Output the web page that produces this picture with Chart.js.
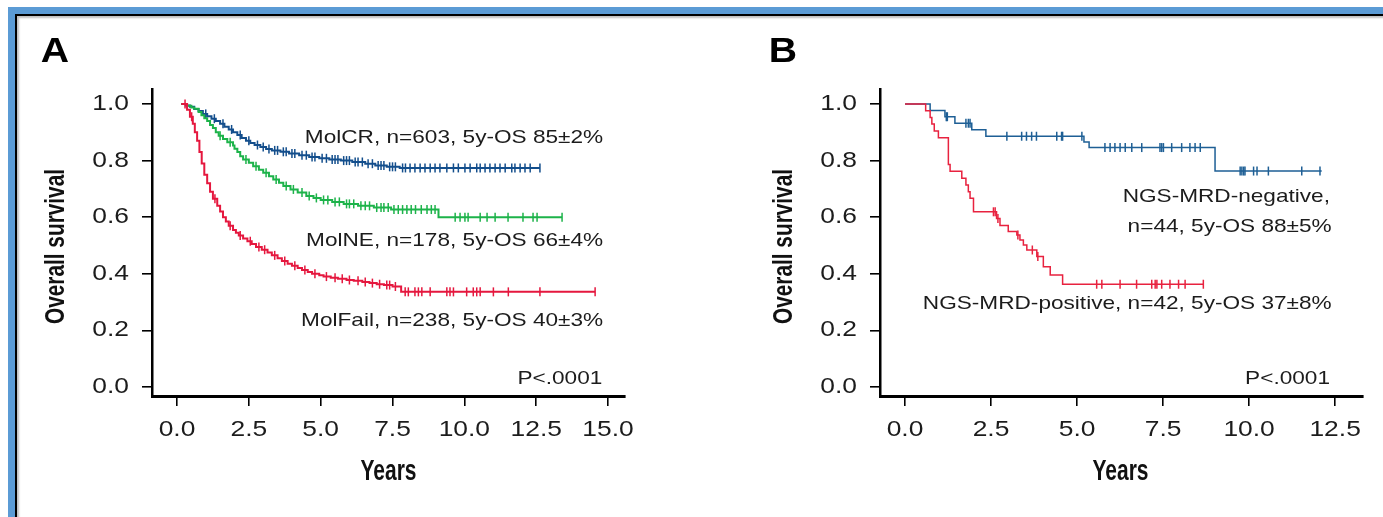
<!DOCTYPE html>
<html><head><meta charset="utf-8">
<script src="https://cdn.jsdelivr.net/npm/chart.js@4"></script>
<style>
html,body{margin:0;padding:0;background:#fff;width:1383px;height:517px;overflow:hidden;}
#f1{position:absolute;left:8px;top:7px;width:1400px;height:520px;border-left:7px solid #5b9bd5;border-top:7px solid #5b9bd5;}
#f2{position:absolute;left:15px;top:14px;width:1400px;height:520px;border-left:2px solid #000;border-top:2px solid #000;box-shadow: inset 2px 2px 2px rgba(0,0,0,.25);}
#wa{position:absolute;left:0;top:0;width:700px;height:517px;}
#wb{position:absolute;left:700px;top:0;width:683px;height:517px;}
</style></head><body>
<div id="f1"></div><div id="f2"></div>
<div id="wa"><canvas id="ca"></canvas></div>
<div id="wb"><canvas id="cb"></canvas></div>
<script>
// ---------- Panel A data (time in years, survival, censored flag) ----------
const molcrT = [0.15,0.3,0.45,0.6,0.75,0.9,1.0,1.05,1.2,1.3,1.35,1.5,1.6,1.65,1.8,1.9,1.95,2.1,2.2,2.25,2.4,2.5,2.55,2.7,2.8,2.9,3.0,3.1,3.2,3.3,3.4,3.5,3.6,3.7,3.8,3.9,4.0,4.1,4.25,4.35,4.5,4.6,4.7,4.8,4.95,5.05,5.2,5.3,5.4,5.5,5.6,5.7,5.8,5.9,6.0,6.1,6.2,6.3,6.45,6.55,6.65,6.8,6.9,7.0,7.1,7.2,7.3,7.4,7.5,7.6,7.75,7.85,7.95,8.11,8.28,8.46,8.63,8.81,8.98,9.15,9.39,9.62,9.79,10.02,10.2,10.43,10.55,10.72,10.89,11.07,11.24,11.42,11.65,11.76,11.94,12.11,12.29,12.63];
const molcrS = [1.0,0.995,0.99,0.982,0.975,0.965,0.965,0.957,0.948,0.948,0.94,0.93,0.93,0.92,0.91,0.91,0.90,0.89,0.89,0.88,0.87,0.87,0.862,0.855,0.855,0.848,0.848,0.841,0.841,0.836,0.836,0.836,0.831,0.831,0.831,0.825,0.825,0.825,0.819,0.819,0.819,0.813,0.813,0.813,0.808,0.808,0.808,0.804,0.804,0.804,0.804,0.80,0.80,0.80,0.80,0.795,0.795,0.795,0.795,0.789,0.789,0.789,0.783,0.783,0.783,0.783,0.778,0.778,0.778,0.778,0.774,0.774,0.774,0.774,0.774,0.774,0.774,0.774,0.774,0.774,0.774,0.774,0.774,0.774,0.774,0.774,0.774,0.774,0.774,0.774,0.774,0.774,0.774,0.774,0.774,0.774,0.774,0.774];
const molcrC = [0,0,0,0,0,0,1,0,0,1,0,0,1,0,0,1,0,0,1,0,0,1,0,0,1,0,1,0,1,0,1,1,0,1,1,0,1,1,0,1,1,0,1,1,0,1,1,0,1,1,1,0,1,1,1,0,1,1,1,0,1,1,0,1,1,1,0,1,1,1,0,1,1,1,1,1,1,1,1,1,1,1,1,1,1,1,1,1,1,1,1,1,1,1,1,1,1,1];

const molneT = [0.15,0.35,0.5,0.6,0.75,0.85,0.95,1.05,1.15,1.25,1.35,1.45,1.5,1.6,1.75,1.85,1.95,2.0,2.1,2.2,2.3,2.4,2.5,2.65,2.75,2.85,3.0,3.1,3.2,3.35,3.45,3.55,3.7,3.8,3.95,4.05,4.2,4.35,4.5,4.6,4.75,4.85,5.0,5.1,5.25,5.4,5.5,5.65,5.8,5.9,6.0,6.15,6.3,6.4,6.55,6.7,6.85,6.95,7.1,7.2,7.35,7.45,7.55,7.7,7.85,8.0,8.15,8.3,8.5,8.7,8.85,8.98,9.1,9.68,9.85,10.02,10.13,10.55,10.79,11.07,11.52,12.04,12.39,12.53,13.4];
const molneS = [1.0,0.994,0.988,0.983,0.972,0.96,0.95,0.94,0.926,0.915,0.90,0.888,0.888,0.876,0.865,0.865,0.853,0.842,0.83,0.815,0.804,0.804,0.792,0.78,0.78,0.768,0.757,0.757,0.745,0.733,0.733,0.722,0.71,0.71,0.698,0.698,0.687,0.687,0.675,0.675,0.668,0.668,0.661,0.661,0.661,0.654,0.654,0.654,0.647,0.647,0.647,0.647,0.64,0.64,0.64,0.64,0.634,0.634,0.634,0.634,0.634,0.627,0.627,0.627,0.627,0.627,0.627,0.627,0.627,0.627,0.627,0.627,0.60,0.60,0.60,0.60,0.60,0.60,0.60,0.60,0.60,0.60,0.60,0.60,0.60];
const molneC = [0,0,0,0,0,0,0,0,0,0,0,0,1,0,0,1,0,0,0,0,0,1,0,0,1,0,0,1,0,0,1,0,0,1,0,1,0,1,0,1,0,1,0,1,1,0,1,1,0,1,1,1,0,1,1,1,0,1,1,1,1,0,1,1,1,1,1,1,1,1,1,1,0,1,1,1,1,1,1,1,1,1,1,1,1];

const molfailT = [0.15,0.28,0.35,0.45,0.51,0.55,0.62,0.7,0.78,0.86,0.95,1.05,1.15,1.25,1.32,1.4,1.5,1.6,1.7,1.8,1.85,1.95,2.05,2.15,2.2,2.3,2.45,2.55,2.6,2.75,2.85,2.95,3.05,3.15,3.3,3.4,3.5,3.65,3.75,3.85,4.0,4.1,4.2,4.35,4.45,4.55,4.7,4.8,4.95,5.1,5.2,5.35,5.5,5.6,5.75,5.9,6.0,6.15,6.3,6.45,6.55,6.7,6.8,6.95,7.05,7.2,7.3,7.4,7.5,7.6,7.8,7.94,8.05,8.28,8.40,8.52,8.81,9.39,9.50,9.62,10.08,10.31,10.43,10.55,11.01,11.53,12.63,14.55];
const molfailS = [1.0,1.0,0.98,0.955,0.955,0.93,0.90,0.87,0.83,0.79,0.75,0.72,0.69,0.665,0.665,0.64,0.62,0.60,0.585,0.57,0.57,0.555,0.545,0.535,0.535,0.525,0.515,0.515,0.505,0.495,0.495,0.485,0.485,0.475,0.465,0.465,0.455,0.445,0.445,0.435,0.428,0.428,0.42,0.413,0.413,0.406,0.40,0.40,0.395,0.39,0.39,0.386,0.386,0.382,0.382,0.378,0.378,0.375,0.375,0.371,0.371,0.367,0.367,0.363,0.363,0.36,0.36,0.36,0.355,0.355,0.336,0.336,0.336,0.336,0.336,0.336,0.336,0.336,0.336,0.336,0.336,0.336,0.336,0.336,0.336,0.336,0.336,0.336];
const molfailC = [0,1,0,0,1,0,0,0,0,0,0,0,0,0,1,0,0,0,0,0,1,0,0,0,1,0,0,1,0,0,1,0,1,0,0,1,0,0,1,0,0,1,0,0,1,0,0,1,0,0,1,0,1,0,1,0,1,0,1,0,1,0,1,0,1,0,1,1,0,1,0,1,1,1,1,1,1,1,1,1,1,1,1,1,1,1,1,1];

// ---------- Panel B data ----------
const negT = [0,0.73,1.16,1.2,1.23,1.45,1.77,1.84,1.89,1.94,2.35,2.96,3.39,3.53,3.68,3.82,4.41,4.55,4.58,5.14,5.2,5.35,5.81,5.96,6.10,6.25,6.40,6.59,6.88,7.41,7.46,7.51,7.75,8.04,8.28,8.43,8.58,9.01,9.74,9.79,9.84,9.88,10.13,10.23,10.56,11.53,12.06,12.11];
const negS = [1,0.977,0.955,0.955,0.955,0.932,0.932,0.932,0.932,0.909,0.886,0.886,0.886,0.886,0.886,0.886,0.886,0.886,0.886,0.886,0.866,0.846,0.846,0.846,0.846,0.846,0.846,0.846,0.846,0.846,0.846,0.846,0.846,0.846,0.846,0.846,0.846,0.763,0.763,0.763,0.763,0.763,0.763,0.763,0.763,0.763,0.763,0.763];
const negC = [0,0,0,1,1,0,1,1,1,0,0,1,1,1,1,1,1,1,1,1,0,0,1,1,1,1,1,1,1,1,1,1,1,1,1,1,1,0,1,1,1,1,1,1,1,1,1,0];

const posT = [0,0.60,0.73,0.78,0.85,0.97,1.26,1.31,1.65,1.77,1.84,1.89,1.99,2.57,2.62,2.66,2.70,2.76,3.00,3.25,3.28,3.34,3.44,3.54,3.70,3.83,3.86,4.02,4.22,4.58,5.57,5.72,6.25,6.73,7.17,7.27,7.32,7.46,7.70,7.95,8.14,8.67];
const posS = [1,0.976,0.952,0.929,0.905,0.881,0.786,0.762,0.738,0.714,0.690,0.667,0.619,0.619,0.619,0.595,0.595,0.571,0.549,0.537,0.537,0.519,0.502,0.484,0.484,0.461,0.461,0.425,0.396,0.363,0.363,0.363,0.363,0.363,0.363,0.363,0.363,0.363,0.363,0.363,0.363,0.363];
const posC = [0,0,0,0,0,0,0,0,0,0,0,0,0,1,1,0,1,0,0,0,1,0,0,0,1,0,1,0,0,0,1,1,1,1,1,1,1,1,1,1,1,1];

// ---------- Axis ticks & labels ----------
const yTicks = [0,0.2,0.4,0.6,0.8,1.0];
const yTickLabels = ['0.0','0.2','0.4','0.6','0.8','1.0'];
const xTicksA = [0,2.5,5,7.5,10,12.5,15];
const xTickLabelsA = ['0.0','2.5','5.0','7.5','10.0','12.5','15.0'];
const xTicksB = [0,2.5,5,7.5,10,12.5];
const xTickLabelsB = ['0.0','2.5','5.0','7.5','10.0','12.5'];

const SANS = "'Liberation Sans',Arial,Helvetica,sans-serif";

function km(label, T, S, C, color, width) {
  return {
    label, data: T.map((t,i)=>({x:t, y:S[i]})),
    stepped: true, borderColor: color, borderWidth: width, fill: false,
    pointRadius: C.map(c => c ? 4.5 : 0), pointHoverRadius: 0,
    pointStyle: 'line', pointRotation: 90,
    pointBorderColor: color, pointBackgroundColor: color, pointBorderWidth: 1.5
  };
}

// draws a text item, optionally rotated and horizontally stretched / fitted to a width
function drawItem(ctx, it, x, y) {
  ctx.save();
  ctx.font = it.font;
  ctx.fillStyle = it.color || '#1c1c1c';
  ctx.textAlign = 'left';
  ctx.textBaseline = 'middle';
  const w = ctx.measureText(it.text).width;
  const sx = it.width ? it.width / w : (it.sx || 1);
  ctx.translate(x, y);
  if (it.rot) ctx.rotate(it.rot);
  ctx.scale(sx, 1);
  const align = it.align || 'right';
  const off = align === 'right' ? -w : align === 'left' ? 0 : -w / 2;
  ctx.fillText(it.text, off, 0);
  ctx.restore();
}

const textPlugin = {
  id: 'txt',
  afterDraw(chart, args, opts) {
    const ctx = chart.ctx, xs = chart.scales.x, ys = chart.scales.y, ca = chart.chartArea;
    // tick labels
    const tf = '22px ' + SANS;
    opts.xTicks.forEach((v, i) => drawItem(ctx, {text: opts.xLabels[i], font: tf, sx: 1.2, align: 'center'}, xs.getPixelForValue(v), ca.bottom + 34));
    yTicks.forEach((v, i) => drawItem(ctx, {text: yTickLabels[i], font: tf, sx: 1.2, align: 'right'}, ca.left - 23, ys.getPixelForValue(v)));
    // axis titles
    const bf = 'bold 30px ' + SANS;
    drawItem(ctx, {text: 'Years', font: bf, width: 56, align: 'center', color: '#111'}, (ca.left + ca.right) / 2 + opts.titleDx, ca.bottom + 76);
    drawItem(ctx, {text: 'Overall survival', font: 'bold 28px ' + SANS, width: 155, align: 'center', rot: -Math.PI / 2, color: '#111'}, ca.left - 96, ys.getPixelForValue(0.5) + 1);
    // annotations
    for (const it of opts.items) {
      const x = it.px != null ? it.px : xs.getPixelForValue(it.x);
      const y = it.py != null ? it.py : ys.getPixelForValue(it.y);
      drawItem(ctx, it, x, y);
    }
  }
};

function makeOptions(xmin, xmax, xTicks, xLabels, pad, titleDx, items) {
  return {
    responsive: true, maintainAspectRatio: false, animation: false, devicePixelRatio: 1,
    layout: { padding: pad },
    plugins: { legend: {display:false}, tooltip: {enabled:false}, txt: {items, xTicks, xLabels, titleDx} },
    scales: {
      x: {
        type: 'linear', min: xmin, max: xmax,
        afterBuildTicks: s => { s.ticks = xTicks.map(v => ({value: v})); },
        ticks: { display: false },
        grid: { drawOnChartArea: false, drawTicks: true, tickLength: 10, color: '#000', lineWidth: 1.6 },
        border: { display: true, color: '#000', width: 3 },
        afterFit: s => { s.height = 517 - 396 - pad.bottom; }
      },
      y: {
        type: 'linear', min: -0.032, max: 1.053,
        afterBuildTicks: s => { s.ticks = yTicks.map(v => ({value: v})); },
        ticks: { display: false },
        grid: { drawOnChartArea: false, drawTicks: true, tickLength: 10, color: '#000', lineWidth: 1.6 },
        border: { display: true, color: '#000', width: 2.5 },
        afterFit: s => { s.width = 115; }
      }
    }
  };
}

const TXT = '19px ' + SANS;
const SX = 1.19;

new Chart(document.getElementById('ca'), {
  type: 'line',
  data: { datasets: [
    km('MolFail', molfailT, molfailS, molfailC, '#e5173e', 2),
    km('MolNE', molneT, molneS, molneC, '#1db34a', 2),
    km('MolCR', molcrT, molcrS, molcrC, '#134e8c', 2)
  ]},
  options: makeOptions(-0.87, 15.59, xTicksA, xTickLabelsA, {left: 37, top: 89, right: 75, bottom: 31}, 0, [
    {text: 'A', px: 55, py: 52, font: 'bold 35px ' + SANS, color: '#000', align: 'center', sx: 1.12},
    {text: 'MolCR, n=603, 5y-OS 85\u00b12%', x: 14.83, y: 0.88, font: TXT, sx: SX},
    {text: 'MolNE, n=178, 5y-OS 66\u00b14%', x: 14.83, y: 0.516, font: TXT, sx: SX},
    {text: 'MolFail, n=238, 5y-OS 40\u00b13%', x: 14.83, y: 0.234, font: TXT, sx: SX},
    {text: 'P<.0001', x: 14.8, y: 0.03, font: TXT, sx: SX}
  ]),
  plugins: [textPlugin]
});

new Chart(document.getElementById('cb'), {
  type: 'line',
  data: { datasets: [
    km('NGS-MRD-positive', posT, posS, posC, '#e8223f', 1.5),
    km('NGS-MRD-negative', negT, negS, negC, '#1e5f95', 1.5)
  ]},
  options: makeOptions(-0.727, 13.31, xTicksB, xTickLabelsB, {left: 65, top: 89, right: 20, bottom: 31}, -1, [
    {text: 'B', px: 83, py: 52, font: 'bold 35px ' + SANS, color: '#000', align: 'center', sx: 1.12},
    {text: 'NGS-MRD-negative,', x: 12.35, y: 0.672, font: TXT, sx: SX},
    {text: 'n=44, 5y-OS 88\u00b15%', x: 12.4, y: 0.566, font: TXT, sx: SX},
    {text: 'NGS-MRD-positive, n=42, 5y-OS 37\u00b18%', x: 12.4, y: 0.294, font: TXT, sx: SX},
    {text: 'P<.0001', x: 12.35, y: 0.03, font: TXT, sx: SX}
  ]),
  plugins: [textPlugin]
});
</script>
</body></html>
